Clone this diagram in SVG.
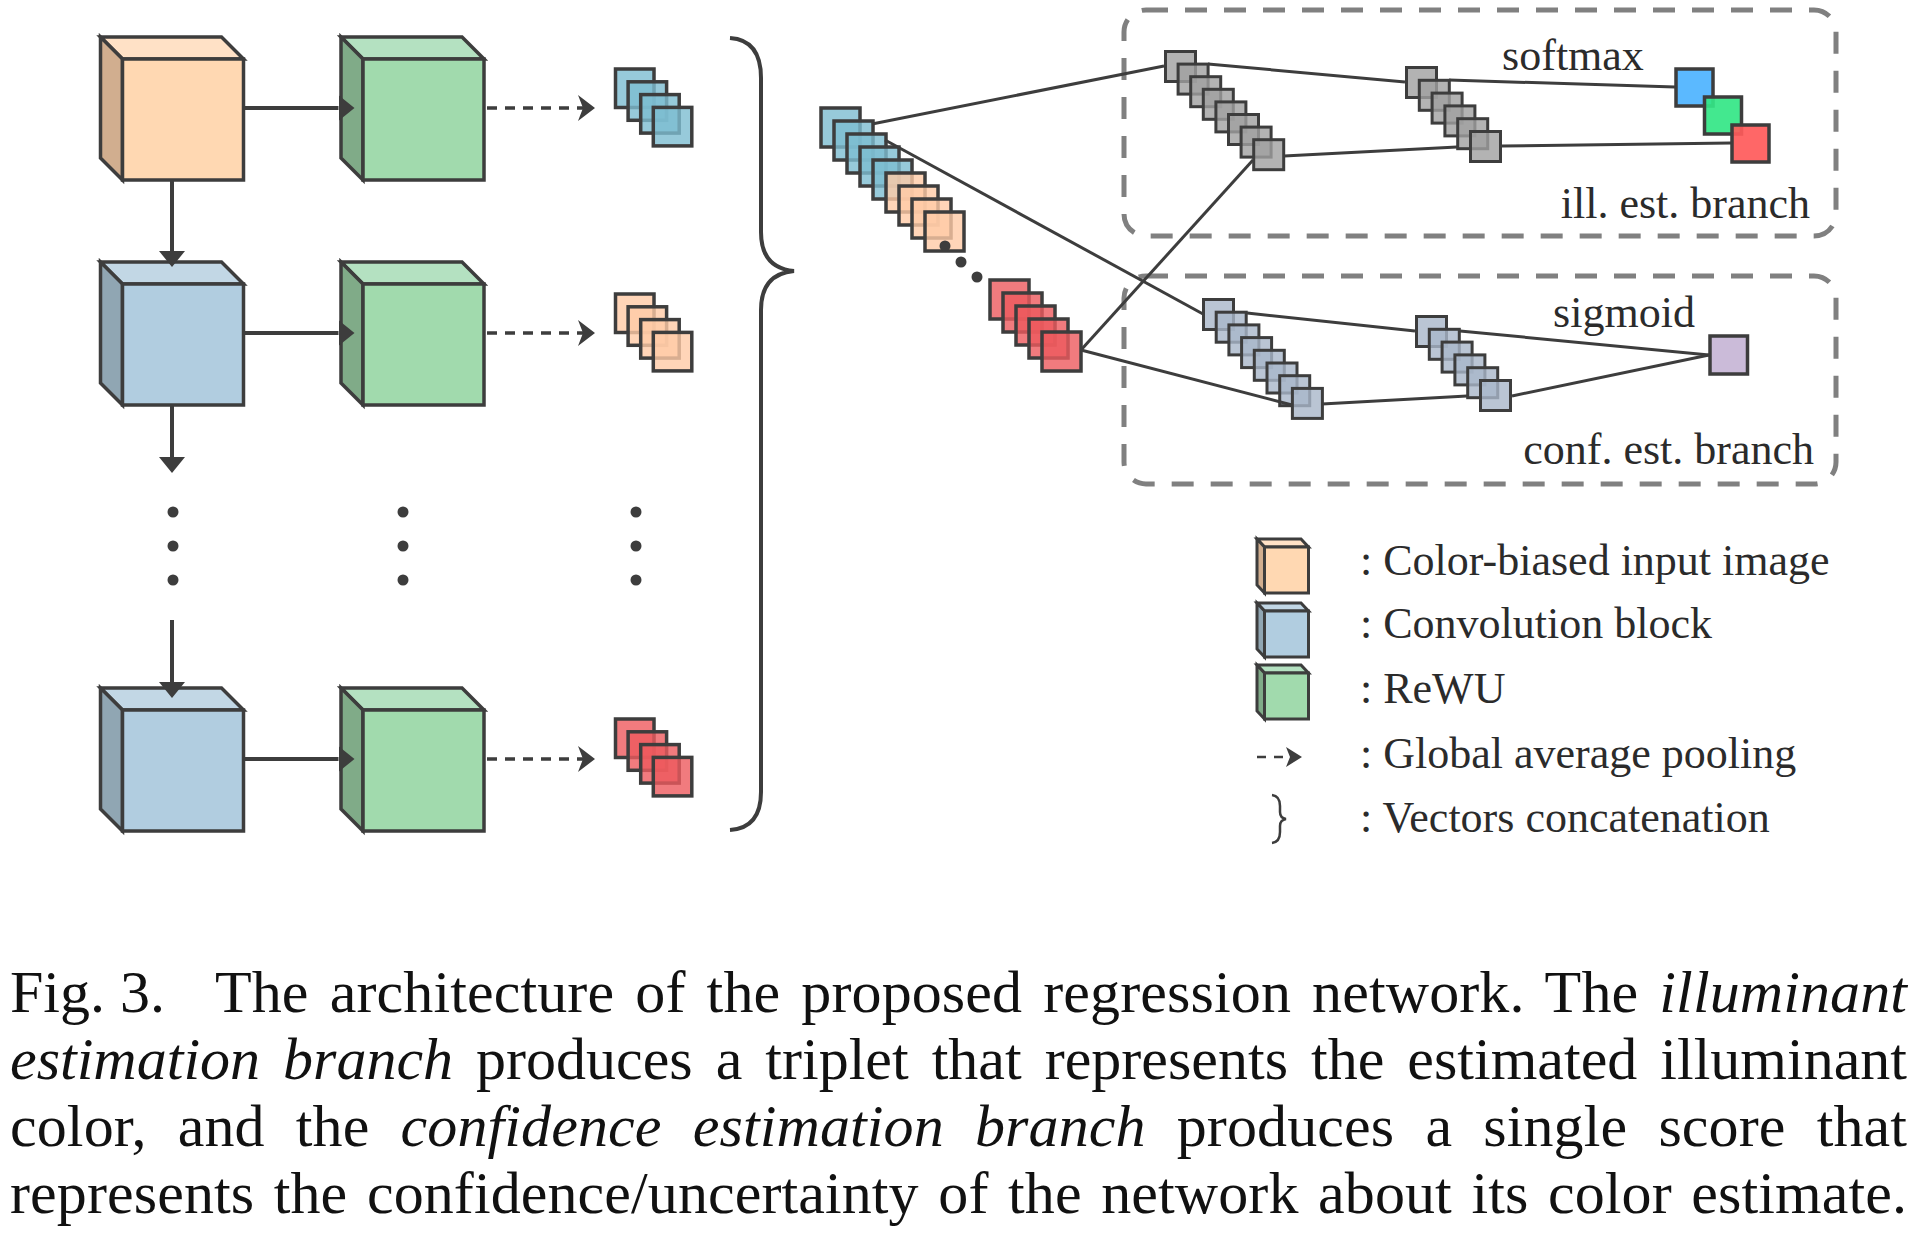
<svg xmlns="http://www.w3.org/2000/svg" width="1920" height="1238" viewBox="0 0 1920 1238">
<style>
.st{stroke:#3d3d3d;stroke-width:3.5;stroke-linejoin:miter}
.thin{stroke:#3d3d3d;stroke-width:3}
.org-f{fill:#ffd8b2}.org-t{fill:#ffe1c6}.org-s{fill:#d1ae8f}
.blu-f{fill:#b1cde0}.blu-t{fill:#c2d7e5}.blu-s{fill:#90a6b3}
.grn-f{fill:#a1daad}.grn-t{fill:#b4e1c1}.grn-s{fill:#80ab88}
.sq-b{fill:#7dbdd1;fill-opacity:.8}
.sq-o{fill:#ffcba6;fill-opacity:.8}
.sq-r{fill:#ee5a5e;fill-opacity:.8}
.sq-g{fill:#a0a0a0;fill-opacity:.8}
.sq-c{fill:#a9b7c9;fill-opacity:.8}
.edge{stroke:#3d3d3d;stroke-width:3;fill:none}
.arr{stroke:#3d3d3d;stroke-width:4;fill:none}
.dash{stroke:#3d3d3d;stroke-width:3.5;fill:none;stroke-dasharray:10 8}
.box{stroke:#808080;stroke-width:5;fill:none;stroke-dasharray:22 17}
.dot{fill:#3d3d3d}
.lbl{font-family:"Liberation Serif","Times New Roman",serif;font-size:44px;fill:#2b2b2b}
.cap{font-family:"Liberation Serif","Times New Roman",serif;font-size:60px;fill:#111}
.it{font-style:italic}
</style>
<defs>
<marker id="ah" markerUnits="userSpaceOnUse" markerWidth="17" markerHeight="27" refX="0" refY="13" orient="auto" viewBox="0 0 17 26">
<path d="M0,0 L16,13 L0,26 z" fill="#3d3d3d"/>
</marker>
<marker id="ch" markerUnits="userSpaceOnUse" markerWidth="18" markerHeight="27" refX="5" refY="13" orient="auto" viewBox="0 0 18 26">
<path d="M0,0 L17,13 L0,26 L5,13 z" fill="#3d3d3d"/>
</marker>
<marker id="chs" markerUnits="userSpaceOnUse" markerWidth="17" markerHeight="21" refX="4" refY="10" orient="auto" viewBox="0 0 17 20">
<path d="M0,0 L16,10 L0,20 L4,10 z" fill="#3d3d3d"/>
</marker>
</defs>
<rect width="1920" height="1238" fill="#ffffff"/>

<!-- left column cubes -->
<g id="cube-input" transform="translate(100.5,37)">
<polygon class="org-t st" points="0,0 121,0 143,22 22,22"/>
<polygon class="org-s st" points="0,0 22,22 22,143 0,121"/>
<rect class="org-f st" x="22" y="22" width="121" height="121"/>
</g>
<g id="rewu-1" transform="translate(341,37)">
<polygon class="grn-t st" points="0,0 121,0 143,22 22,22"/>
<polygon class="grn-s st" points="0,0 22,22 22,143 0,121"/>
<rect class="grn-f st" x="22" y="22" width="121" height="121"/>
</g>
<g id="conv-1" transform="translate(100.5,262)">
<polygon class="blu-t st" points="0,0 121,0 143,22 22,22"/>
<polygon class="blu-s st" points="0,0 22,22 22,143 0,121"/>
<rect class="blu-f st" x="22" y="22" width="121" height="121"/>
</g>
<g id="rewu-2" transform="translate(341,262)">
<polygon class="grn-t st" points="0,0 121,0 143,22 22,22"/>
<polygon class="grn-s st" points="0,0 22,22 22,143 0,121"/>
<rect class="grn-f st" x="22" y="22" width="121" height="121"/>
</g>
<g id="conv-n" transform="translate(100.5,688)">
<polygon class="blu-t st" points="0,0 121,0 143,22 22,22"/>
<polygon class="blu-s st" points="0,0 22,22 22,143 0,121"/>
<rect class="blu-f st" x="22" y="22" width="121" height="121"/>
</g>
<g id="rewu-n" transform="translate(341,688)">
<polygon class="grn-t st" points="0,0 121,0 143,22 22,22"/>
<polygon class="grn-s st" points="0,0 22,22 22,143 0,121"/>
<rect class="grn-f st" x="22" y="22" width="121" height="121"/>
</g>

<!-- pooled vectors -->
<g id="vec-1" transform="translate(615.5,69)">
<rect class="sq-b st" x="0" y="0" width="38.5" height="38.5"/>
<rect class="sq-b st" x="12.6" y="12.8" width="38.5" height="38.5"/>
<rect class="sq-b st" x="25.2" y="25.6" width="38.5" height="38.5"/>
<rect class="sq-b st" x="37.8" y="38.4" width="38.5" height="38.5"/>
</g>
<g id="vec-2" transform="translate(615.5,294)">
<rect class="sq-o st" x="0" y="0" width="38.5" height="38.5"/>
<rect class="sq-o st" x="12.6" y="12.8" width="38.5" height="38.5"/>
<rect class="sq-o st" x="25.2" y="25.6" width="38.5" height="38.5"/>
<rect class="sq-o st" x="37.8" y="38.4" width="38.5" height="38.5"/>
</g>
<g id="vec-n" transform="translate(615.5,719)">
<rect class="sq-r st" x="0" y="0" width="38.5" height="38.5"/>
<rect class="sq-r st" x="12.6" y="12.8" width="38.5" height="38.5"/>
<rect class="sq-r st" x="25.2" y="25.6" width="38.5" height="38.5"/>
<rect class="sq-r st" x="37.8" y="38.4" width="38.5" height="38.5"/>
</g>

<!-- ellipsis dots -->
<g id="ellipsis-left">
<circle class="dot" cx="173" cy="512" r="5.5"/><circle class="dot" cx="173" cy="546" r="5.5"/><circle class="dot" cx="173" cy="580" r="5.5"/>
<circle class="dot" cx="403" cy="512" r="5.5"/><circle class="dot" cx="403" cy="546" r="5.5"/><circle class="dot" cx="403" cy="580" r="5.5"/>
<circle class="dot" cx="636" cy="512" r="5.5"/><circle class="dot" cx="636" cy="546" r="5.5"/><circle class="dot" cx="636" cy="580" r="5.5"/>
</g>

<!-- brace -->
<g id="concat-brace">
<path d="M730,38 Q761,40 761,78 L761,232 Q761,268 794,271 Q761,274 761,310 L761,792 Q761,828 730,830" fill="none" stroke="#3d3d3d" stroke-width="4"/>
</g>

<!-- concatenated vector -->
<g id="concat-vector">
<rect class="sq-b st" x="821" y="108" width="39" height="39"/>
<rect class="sq-b st" x="834" y="121" width="39" height="39"/>
<rect class="sq-b st" x="847" y="134" width="39" height="39"/>
<rect class="sq-b st" x="860" y="147" width="39" height="39"/>
<rect class="sq-b st" x="873" y="160" width="39" height="39"/>
<rect class="sq-o st" x="886" y="173" width="39" height="39"/>
<rect class="sq-o st" x="899" y="186" width="39" height="39"/>
<rect class="sq-o st" x="912" y="199" width="39" height="39"/>
<rect class="sq-o st" x="925" y="212" width="39" height="39"/>
<circle class="dot" cx="945" cy="246" r="5.5"/>
<circle class="dot" cx="961" cy="262" r="5.5"/>
<circle class="dot" cx="977" cy="277" r="5.5"/>
<rect class="sq-r st" x="990" y="280" width="39" height="39"/>
<rect class="sq-r st" x="1003" y="293" width="39" height="39"/>
<rect class="sq-r st" x="1016" y="306" width="39" height="39"/>
<rect class="sq-r st" x="1029" y="319" width="39" height="39"/>
<rect class="sq-r st" x="1042" y="332" width="39" height="39"/>
</g>

<!-- illuminant estimation branch -->
<g id="ill-branch">
<rect class="box" x="1124" y="10" width="712" height="226" rx="22"/>
<text class="lbl" x="1573" y="70" text-anchor="middle">softmax</text>
<text class="lbl" x="1810" y="218" text-anchor="end">ill. est. branch</text>
</g>
<g id="ill-fc1">
<rect class="sq-g thin" x="1165.5" y="51.5" width="30" height="30"/>
<rect class="sq-g thin" x="1178.1" y="64.1" width="30" height="30"/>
<rect class="sq-g thin" x="1190.7" y="76.7" width="30" height="30"/>
<rect class="sq-g thin" x="1203.3" y="89.3" width="30" height="30"/>
<rect class="sq-g thin" x="1215.9" y="101.9" width="30" height="30"/>
<rect class="sq-g thin" x="1228.5" y="114.5" width="30" height="30"/>
<rect class="sq-g thin" x="1241.1" y="127.1" width="30" height="30"/>
<rect class="sq-g thin" x="1253.7" y="139.7" width="30" height="30"/>
</g>
<g id="ill-fc2">
<rect class="sq-g thin" x="1406.5" y="67.5" width="30" height="30"/>
<rect class="sq-g thin" x="1419.3" y="80.3" width="30" height="30"/>
<rect class="sq-g thin" x="1432.1" y="93.1" width="30" height="30"/>
<rect class="sq-g thin" x="1444.9" y="105.9" width="30" height="30"/>
<rect class="sq-g thin" x="1457.7" y="118.7" width="30" height="30"/>
<rect class="sq-g thin" x="1470.5" y="131.5" width="30" height="30"/>
</g>
<g id="ill-output">
<rect class="st" x="1676" y="69" width="37" height="37" fill="#4db3ff" fill-opacity="0.92"/>
<rect class="st" x="1704.5" y="97" width="37" height="37" fill="#33e686" fill-opacity="0.92"/>
<rect class="st" x="1732" y="125" width="37" height="37" fill="#ff5a5a" fill-opacity="0.92"/>
</g>

<!-- confidence estimation branch -->
<g id="conf-branch">
<rect class="box" x="1124" y="276" width="712" height="208" rx="22"/>
<text class="lbl" x="1624" y="327" text-anchor="middle">sigmoid</text>
<text class="lbl" x="1814" y="464" text-anchor="end">conf. est. branch</text>
</g>
<g id="conf-fc1">
<rect class="sq-c thin" x="1203.5" y="299.5" width="30" height="30"/>
<rect class="sq-c thin" x="1216.2" y="312.2" width="30" height="30"/>
<rect class="sq-c thin" x="1228.9" y="324.9" width="30" height="30"/>
<rect class="sq-c thin" x="1241.6" y="337.6" width="30" height="30"/>
<rect class="sq-c thin" x="1254.3" y="350.3" width="30" height="30"/>
<rect class="sq-c thin" x="1267" y="363" width="30" height="30"/>
<rect class="sq-c thin" x="1279.7" y="375.7" width="30" height="30"/>
<rect class="sq-c thin" x="1292.4" y="388.4" width="30" height="30"/>
</g>
<g id="conf-fc2">
<rect class="sq-c thin" x="1416.5" y="316.5" width="30" height="30"/>
<rect class="sq-c thin" x="1429.3" y="329.3" width="30" height="30"/>
<rect class="sq-c thin" x="1442.1" y="342.1" width="30" height="30"/>
<rect class="sq-c thin" x="1454.9" y="354.9" width="30" height="30"/>
<rect class="sq-c thin" x="1467.7" y="367.7" width="30" height="30"/>
<rect class="sq-c thin" x="1480.5" y="380.5" width="30" height="30"/>
</g>
<g id="conf-output">
<rect class="st" x="1710" y="336" width="37.5" height="38" fill="#cbbbd9"/>
</g>

<!-- connectors -->
<g id="connectors">
<line class="arr" x1="243.5" y1="108" x2="338.5" y2="108" marker-end="url(#ah)"/>
<line class="arr" x1="243.5" y1="333" x2="338.5" y2="333" marker-end="url(#ah)"/>
<line class="arr" x1="243.5" y1="759" x2="338.5" y2="759" marker-end="url(#ah)"/>
<line class="arr" x1="172" y1="180" x2="172" y2="251" marker-end="url(#ah)"/>
<line class="arr" x1="172" y1="405" x2="172" y2="457" marker-end="url(#ah)"/>
<line class="arr" x1="172" y1="620" x2="172" y2="682" marker-end="url(#ah)"/>
<line class="dash" x1="487" y1="108" x2="583" y2="108" marker-end="url(#ch)"/>
<line class="dash" x1="487" y1="333" x2="583" y2="333" marker-end="url(#ch)"/>
<line class="dash" x1="487" y1="759" x2="583" y2="759" marker-end="url(#ch)"/>
<line class="edge" x1="872" y1="124" x2="1164" y2="66"/>
<line class="edge" x1="885" y1="140" x2="1203" y2="314"/>
<line class="edge" x1="1081" y1="350" x2="1253" y2="160"/>
<line class="edge" x1="1081" y1="350" x2="1292" y2="405"/>
<line class="edge" x1="1208" y1="64" x2="1405" y2="82"/>
<line class="edge" x1="1284" y1="156" x2="1457" y2="147"/>
<line class="edge" x1="1449" y1="80" x2="1675" y2="87"/>
<line class="edge" x1="1502" y1="146" x2="1731" y2="143"/>
<line class="edge" x1="1247" y1="313" x2="1415" y2="331"/>
<line class="edge" x1="1322" y1="404" x2="1467" y2="396"/>
<line class="edge" x1="1460" y1="331" x2="1709" y2="355"/>
<line class="edge" x1="1512" y1="396" x2="1709" y2="355"/>
</g>

<!-- legend -->
<g id="legend-input">
<g transform="translate(1257,539)">
<polygon class="org-t thin" points="0,0 44,0 51.5,8 7.5,8"/>
<polygon class="org-s thin" points="0,0 7.5,8 7.5,54 0,46"/>
<rect class="org-f thin" x="7.5" y="8" width="44" height="46"/>
</g>
<text class="lbl" x="1360" y="575">: Color-biased input image</text>
</g>
<g id="legend-conv">
<g transform="translate(1257,603)">
<polygon class="blu-t thin" points="0,0 44,0 51.5,8 7.5,8"/>
<polygon class="blu-s thin" points="0,0 7.5,8 7.5,54 0,46"/>
<rect class="blu-f thin" x="7.5" y="8" width="44" height="46"/>
</g>
<text class="lbl" x="1360" y="638">: Convolution block</text>
</g>
<g id="legend-rewu">
<g transform="translate(1257,665)">
<polygon class="grn-t thin" points="0,0 44,0 51.5,8 7.5,8"/>
<polygon class="grn-s thin" points="0,0 7.5,8 7.5,54 0,46"/>
<rect class="grn-f thin" x="7.5" y="8" width="44" height="46"/>
</g>
<text class="lbl" x="1360" y="703">: ReWU</text>
</g>
<g id="legend-gap">
<line x1="1257" y1="757" x2="1290" y2="757" stroke="#3d3d3d" stroke-width="2.5" stroke-dasharray="9 8" marker-end="url(#chs)"/>
<text class="lbl" x="1360" y="768">: Global average pooling</text>
</g>
<g id="legend-concat">
<path d="M1272,795 Q1280,796 1280,806 L1280,812 Q1280,818 1286,819 Q1280,820 1280,826 L1280,832 Q1280,842 1272,843" fill="none" stroke="#3d3d3d" stroke-width="2.5"/>
<text class="lbl" x="1360" y="832">: Vectors concatenation</text>
</g>

<!-- caption -->
<g id="caption">
<text class="cap" x="10" y="1012">Fig. 3.</text>
<text class="cap" x="215" y="1012" textLength="1692" lengthAdjust="spacing" word-spacing="6">The architecture of the proposed regression network. The <tspan class="it">illuminant</tspan></text>
<text class="cap" x="10" y="1079" textLength="1897" lengthAdjust="spacing" word-spacing="8"><tspan class="it">estimation branch</tspan> produces a triplet that represents the estimated illuminant</text>
<text class="cap" x="10" y="1146" textLength="1897" lengthAdjust="spacing" word-spacing="16">color, and the <tspan class="it">confidence estimation branch</tspan> produces a single score that</text>
<text class="cap" x="10" y="1213" textLength="1897" lengthAdjust="spacing" word-spacing="4.5">represents the confidence/uncertainty of the network about its color estimate.</text>
</g>
</svg>
